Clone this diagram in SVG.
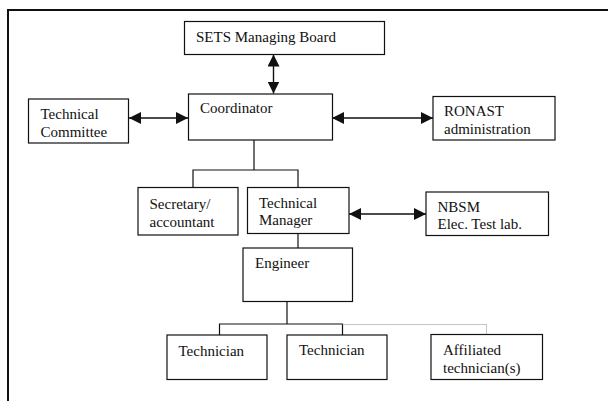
<svg xmlns="http://www.w3.org/2000/svg" width="608" height="401" viewBox="0 0 608 401" font-family="'Liberation Serif', 'Times New Roman', serif">
<defs>
<style>
.box{fill:#fff;stroke:#111;stroke-width:1.2}
text{font-family:'Liberation Serif','Times New Roman',serif;font-size:15px;fill:#111}
.ln{fill:none;stroke:#111;stroke-width:1.2}
.ar{fill:none;stroke:#111;stroke-width:1.4;marker-start:url(#ah);marker-end:url(#ah)}
.dot{fill:none;stroke:#888;stroke-width:1;stroke-dasharray:1 1}
</style>
<marker id="ah" viewBox="0 0 12 12" refX="12" refY="6" markerWidth="12" markerHeight="12" markerUnits="userSpaceOnUse" orient="auto-start-reverse">
<path d="M0,0 L12,6 L0,12 z" fill="#111"/>
</marker>
</defs>
<rect width="608" height="401" fill="#fff"/>
<path d="M8,401 V10 H608" fill="none" stroke="#111" stroke-width="2"/>
<g id="connectors">
<path class="ar" d="M273.5,54.5 V93.5"/>
<path class="ar" d="M129,118 H188"/>
<path class="ar" d="M332,118 H433"/>
<path class="ar" d="M349,214 H426"/>
<path class="ln" d="M254,140 V170 M193,187 V170 H298 V187"/>
<path class="ln" d="M298,233 V248"/>
<path class="ln" d="M287,302 V324 M219.5,335 V324 H342.5 V335"/>
<path class="dot" d="M342.5,324.5 H486.5 V334"/>
</g>
<g id="sets"><rect class="box" x="184.5" y="21.5" width="200" height="33"/><text x="196" y="42">SETS Managing Board</text></g>
<g id="coordinator"><rect class="box" x="188.5" y="94" width="144" height="46"/><text x="200" y="113">Coordinator</text></g>
<g id="techcommittee"><rect class="box" x="28.5" y="99" width="100" height="44"/><text x="40.5" y="119">Technical</text><text x="40.5" y="137">Committee</text></g>
<g id="ronast"><rect class="box" x="433" y="96.5" width="122" height="43.5"/><text x="444" y="116">RONAST</text><text x="444" y="134">administration</text></g>
<g id="secretary"><rect class="box" x="138" y="187.5" width="100" height="47.5"/><text x="149.5" y="209">Secretary/</text><text x="149.5" y="226.5">accountant</text></g>
<g id="techmanager"><rect class="box" x="247.5" y="187.5" width="101.5" height="46"/><text x="259" y="207.5">Technical</text><text x="259" y="225">Manager</text></g>
<g id="nbsm"><rect class="box" x="426" y="192" width="122.5" height="43.5"/><text x="437.5" y="211.5">NBSM</text><text x="437.5" y="229">Elec. Test lab.</text></g>
<g id="engineer"><rect class="box" x="243" y="248" width="109.5" height="53.5"/><text x="255" y="268">Engineer</text></g>
<g id="technician1"><rect class="box" x="167" y="335" width="100" height="44.5"/><text x="178.5" y="356">Technician</text></g>
<g id="technician2"><rect class="box" x="287" y="335" width="100" height="44.5"/><text x="299" y="355">Technician</text></g>
<g id="affiliated"><rect class="box" x="431" y="334.5" width="111.5" height="45"/><text x="443" y="355">Affiliated</text><text x="443" y="372.5">technician(s)</text></g>
</svg>
